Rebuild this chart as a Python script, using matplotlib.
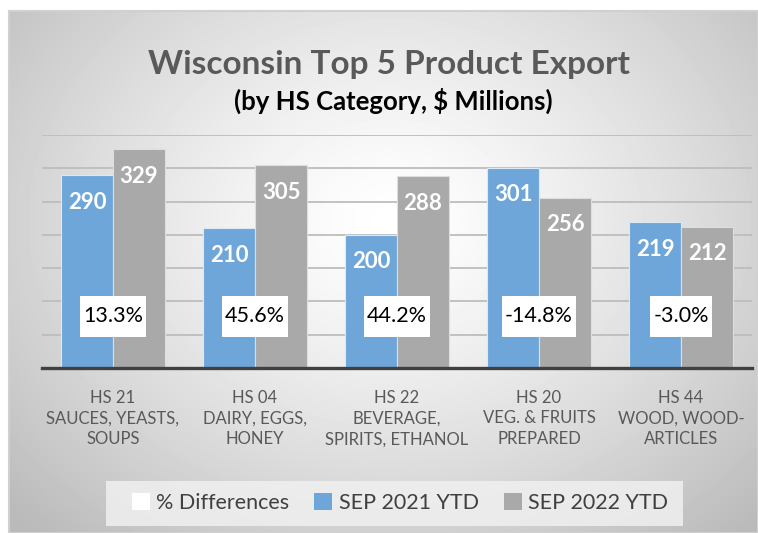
import numpy as np
import matplotlib.pyplot as plt
from matplotlib.patches import Patch, Rectangle

plt.rcParams['font.family'] = ['Lato', 'DejaVu Sans']

# 数据
categories = ['HS 21\nSAUCES, YEASTS,\nSOUPS', 'HS 04\nDAIRY, EGGS,\nHONEY',
              'HS 22\nBEVERAGE,\nSPIRITS, ETHANOL', 'HS 20\nVEG. & FRUITS\nPREPARED',
              'HS 44\nWOOD, WOOD-\nARTICLES']
sep_2021 = [290, 210, 200, 301, 219]
sep_2022 = [329, 305, 288, 256, 212]
pct_diff = ['13.3%', '45.6%', '44.2%', '-14.8%', '-3.0%']
series_names = ['% Differences', 'SEP 2021 YTD', 'SEP 2022 YTD']

W, H = 758, 533
fig = plt.figure(figsize=(W / 100, H / 100), dpi=100, facecolor='white')

# 背景（径向渐变）
bg = fig.add_axes([9 / W, 0, 1 - 9 / W, (H - 11) / H], zorder=0)
yy, xx = np.mgrid[0:522, 0:749]
cx, cy = 380, 210
d = np.sqrt(((xx - cx) / 520.0) ** 2 + ((yy - cy) / 420.0) ** 2)
shade = 1 - 0.27 * np.clip(d, 0, 1) ** 1.3
bg.imshow(shade, cmap='gray', vmin=0, vmax=1, aspect='auto', interpolation='bilinear')
bg.set_xticks([])
bg.set_yticks([])
for s in bg.spines.values():
    s.set_color('#d0d0d0')
    s.set_linewidth(1.5)

# 主图
ax = fig.add_axes([42 / W, (H - 368) / H, 710 / W, 233 / H], zorder=1)
ax.set_facecolor('none')
x = np.arange(len(categories))
bw = 0.366
b1 = ax.bar(x - bw / 2, sep_2021, bw, color='#6fa6da', edgecolor='#dce8f4', linewidth=0.8, zorder=3)
b2 = ax.bar(x + bw / 2, sep_2022, bw, color='#a9a9a9', edgecolor='#dedede', linewidth=0.8, zorder=3)

for bars in (b1, b2):
    for r in bars:
        ax.annotate(f'{int(r.get_height())}', (r.get_x() + r.get_width() / 2, r.get_height()),
                    xytext=(0, -19.5), textcoords='offset points', ha='center', va='center',
                    color='white', fontsize=16, fontweight='bold', zorder=5)

pct_texts = []
for i, t in enumerate(pct_diff):
    pct_texts.append(ax.text(x[i], 78, t, ha='center', va='center', fontsize=15.5,
                             color='black', zorder=7))

ax.set_xlim(-0.5, 4.5)
ax.set_ylim(0, 350)
ax.set_yticks(np.arange(50, 351, 50))
ax.set_yticklabels([])
ax.tick_params(axis='y', length=0)
ax.grid(axis='y', color='#bdbdbd', linewidth=1.3, zorder=0)
ax.set_axisbelow(True)
ax.set_xticks(x)
ax.set_xticklabels(categories, fontsize=12, color='#595959', linespacing=1.38)
ax.tick_params(axis='x', length=0, pad=15.5)
for s in ['top', 'right', 'left']:
    ax.spines[s].set_visible(False)
ax.spines['bottom'].set_color('#404040')
ax.spines['bottom'].set_linewidth(2.4)
ax.spines['bottom'].set_zorder(4)

# 白色百分比方框（宽度按文字，高度固定 41px）
fig.canvas.draw()
rend = fig.canvas.get_renderer()
inv = ax.transData.inverted()
for t in pct_texts:
    bb = t.get_window_extent(rend)
    cxp = (bb.x0 + bb.x1) / 2
    cyp = (bb.y0 + bb.y1) / 2
    (x0, y0) = inv.transform((cxp - bb.width / 2 - 3, cyp - 20.5))
    (x1, y1) = inv.transform((cxp + bb.width / 2 + 3, cyp + 20.5))
    ax.add_patch(Rectangle((x0, y0), x1 - x0, y1 - y0, facecolor='white',
                           edgecolor='none', zorder=6))

# 标题
fig.text(389 / W, 1 - 64 / H, 'Wisconsin Top 5 Product Export', ha='center', va='center',
         fontsize=24, fontweight='bold', color='#595959', zorder=5)
fig.text(393 / W, 1 - 101 / H, '(by HS Category, $ Millions)', ha='center', va='center',
         fontsize=18.5, fontweight='bold', color='black', zorder=5)

# 图例（底框单独画）
fig.patches.append(Rectangle((106 / W, 1 - 526 / H), 577 / W, 45 / H, transform=fig.transFigure,
                             facecolor='#f0f0f0', edgecolor='none', alpha=0.85, zorder=2))
handles = [Patch(facecolor='white', edgecolor='none'),
           Patch(facecolor='#6fa6da', edgecolor='none'),
           Patch(facecolor='#a9a9a9', edgecolor='none')]
leg = fig.legend(handles, series_names, loc='center', bbox_to_anchor=(400 / W, 1 - 503 / H),
                 ncol=3, fontsize=15.5, frameon=False, handlelength=0.85,
                 handleheight=0.85, handletextpad=0.3, columnspacing=1.15)
leg.set_zorder(3)
for t in leg.get_texts():
    t.set_color('#404040')

plt.savefig('out.png', dpi=100, facecolor='white')
